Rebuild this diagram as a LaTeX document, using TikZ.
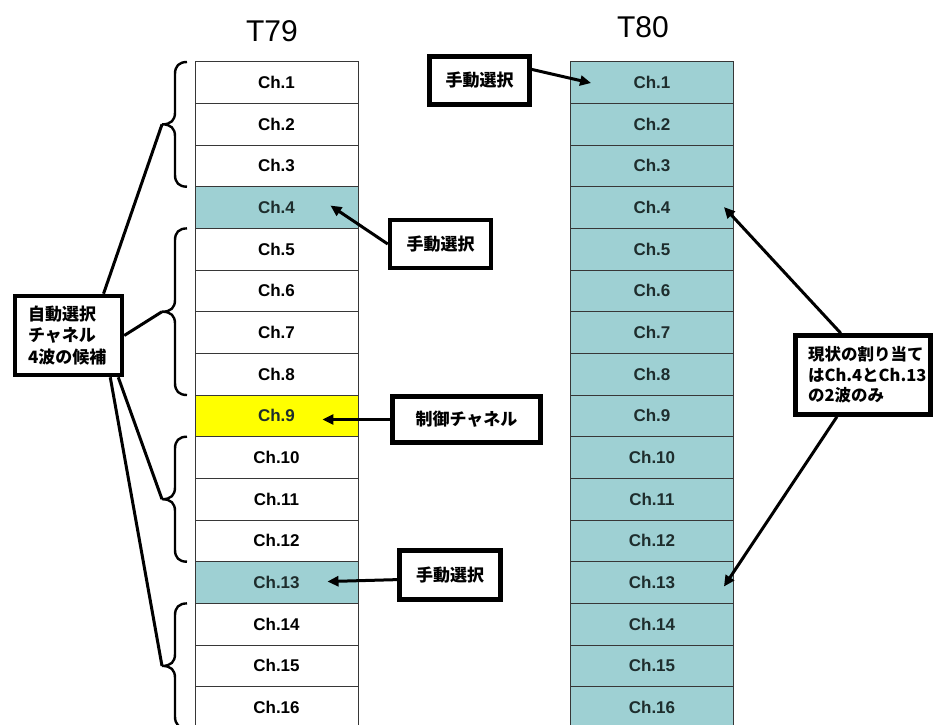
\documentclass[tikz,border=0pt]{standalone}
\usepackage{fontspec}
\setmainfont{Liberation Sans}
\newfontfamily\jp{Noto Sans CJK JP}
\usetikzlibrary{arrows.meta,calc}

\definecolor{tealcell}{RGB}{158,208,211}
\definecolor{yelcell}{RGB}{255,255,0}
\definecolor{cellline}{RGB}{55,55,55}
\definecolor{darktext}{RGB}{30,45,45}

% curly brace on the left of a block of channels, tip pointing left
\newcommand\chbrace[3]{%
  \pgfmathsetmacro\bm{(#1+#2)/2}%
  \draw[brc] (187,#1) .. controls (179,#1) and (175,#1+4) .. (175,#1+12)
    -- (175,\bm-12) .. controls (175,\bm-4) and (171,\bm) .. (162,\bm)
    .. controls (171,\bm) and (175,\bm+4) .. (175,\bm+12)
    -- (175,#2-12) .. controls (175,#2-4) and (179,#2) .. (187,#2);
  \coordinate (#3) at (162,\bm);%
}

\begin{document}
\begin{tikzpicture}[x=1pt,y=-1pt,
  cell/.style={draw=cellline,line width=0.9pt,minimum width=163pt,
    minimum height=41.67pt,inner sep=0pt,
    font=\fontsize{17}{18}\selectfont\bfseries},
  wcell/.style={cell,fill=white},
  tcell/.style={cell,fill=tealcell,text=darktext},
  ycell/.style={cell,fill=yelcell,text=darktext},
  title/.style={font=\fontsize{30}{32}\selectfont,inner sep=0pt},
  lbl/.style={draw=black,line width=4.5pt,fill=white,inner sep=0pt,
    font=\jp\bfseries\fontsize{17}{20}\selectfont},
  arr/.style={line width=3pt,-{Triangle[length=11pt,width=10pt]}},
  conn/.style={line width=3pt},
  brc/.style={line width=2.4pt}
]
\useasboundingbox (0,0) rectangle (935,724);
\fill[white] (0,0) rectangle (935,724);

% column titles
\node[title] (t79) at (272,31) {T79};
\node[title] (t80) at (643,27.5) {T80};

% channel columns
\foreach \i/\s in {1/wcell,2/wcell,3/wcell,4/tcell,5/wcell,6/wcell,7/wcell,8/wcell,
                   9/ycell,10/wcell,11/wcell,12/wcell,13/tcell,14/wcell,15/wcell,16/wcell}{
  \pgfmathsetmacro\yc{61.7+(\i-0.5)*41.667}
  \node[\s] (a\i) at (276.5,\yc) {Ch.\i};
  \node[tcell] (b\i) at (652,\yc) {Ch.\i};
}

% braces grouping the automatically selectable channels
\chbrace{62}{186.7}{k1}
\chbrace{228.4}{395}{k2}
\chbrace{436.7}{561.7}{k3}
\chbrace{603.4}{728.4}{k4}

% label for the automatic selection candidates
\node[lbl,text width=81pt,inner xsep=13pt,minimum height=79pt,align=left,
      font=\jp\bfseries\fontsize{17}{21.5}\selectfont]
  (auto) at (68.5,335.5) {自動選択\\チャネル\\4波の候補};
\draw[conn] (auto.50) -- (k1);
\draw[conn] (auto.east) -- (k2);
\draw[conn] (auto.-40) -- (k3);
\draw[conn] (auto.-45) -- (k4);

% manual selection / control channel call-outs on T79
\node[lbl,minimum width=101pt,minimum height=48pt] (m4) at (440.5,244) {手動選択};
\draw[arr] (m4.west) -- ($(a4.east)+(-28,-2)$);

\node[lbl,minimum width=148pt,minimum height=46pt] (ctl) at (466.5,419.5) {制御チャネル};
\coordinate (c9tip) at ($(a9.east)+(-36,3.5)$);
\draw[arr] (ctl.west) -- (ctl.west -| c9tip);

\node[lbl,minimum width=101pt,minimum height=49pt] (m13) at (450,575) {手動選択};
\draw[arr] (m13.185) -- ($(a13.east)+(-31,-1)$);

% manual selection on T80
\node[lbl,minimum width=100pt,minimum height=48pt] (m1) at (479.5,80.5) {手動選択};
\draw[arr] (m1.12) -- ($(b1.west)+(21,0.5)$);

% current assignment note on T80
\node[lbl,text width=110pt,inner xsep=12.5pt,minimum height=79pt,align=left,
      font=\jp\bfseries\fontsize{16.5}{20.5}\selectfont]
  (now) at (863,375) {現状の割り当て\\はCh.4とCh.13\\の2波のみ};
\draw[arr] (now.118) -- ($(b4.east)+(-10,-0.5)$);
\draw[arr] (now.238) -- ($(b13.east)+(-10,4)$);
\end{tikzpicture}
\end{document}
